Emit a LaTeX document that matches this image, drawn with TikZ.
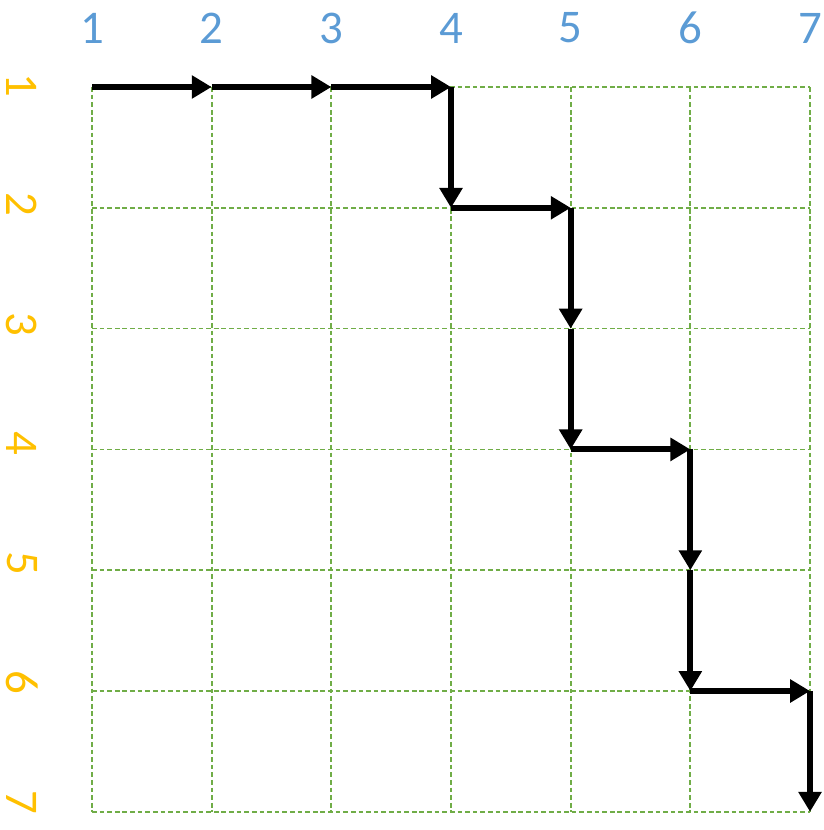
\documentclass[tikz,border=0pt]{standalone}
\usepackage{fontspec}
\setmainfont{Carlito}
\usetikzlibrary{arrows.meta}
\definecolor{colblue}{RGB}{91,155,213}
\definecolor{rowgold}{RGB}{255,192,0}
\definecolor{gridgreen}{RGB}{112,173,71}
\tikzset{
gridline/.style={gridgreen, line width=1.5pt, dash pattern=on 4pt off 2.5pt}, % dashed grid
pathstep/.style={-{Triangle[length=17pt,width=19pt]}, line width=5pt, black}, % one move
collabel/.style={colblue, inner sep=0pt, font=\fontsize{40}{48}\selectfont},
rowlabel/.style={rowgold, inner sep=0pt, rotate=-90, font=\fontsize{40}{48}\selectfont}
}

\begin{document}
\begin{tikzpicture}[x=0.03cm, y=-0.03cm]
        \useasboundingbox (0,0) rectangle (824,830);
        % grid points
        \foreach \i in {1,...,7}
          \foreach \j in {1,...,7}
            \coordinate (g-\i-\j) at ({92+(\i-1)*119.67},{87+(\j-1)*120.8});
        % grid lines
        \foreach \i in {1,...,7} {
          \draw[gridline] (g-\i-1) -- (g-\i-7);
          \draw[gridline] (g-1-\i) -- (g-7-\i);
        }
        % labels
        \foreach \i in {1,...,7} {
          \node[collabel] (col-\i) at ({92+(\i-1)*119.67},28) {\i};
          \node[rowlabel] (row-\i) at (22,{85+(\i-1)*119.5}) {\i};
        }
        % the path
        \foreach \a/\b in {1-1/2-1, 2-1/3-1, 3-1/4-1, 4-1/4-2, 4-2/5-2, 5-2/5-3,
                           5-3/5-4, 5-4/6-4, 6-4/6-5, 6-5/6-6, 6-6/7-6, 7-6/7-7}
          \draw[pathstep] (g-\a) -- (g-\b);
\end{tikzpicture}
\end{document}
